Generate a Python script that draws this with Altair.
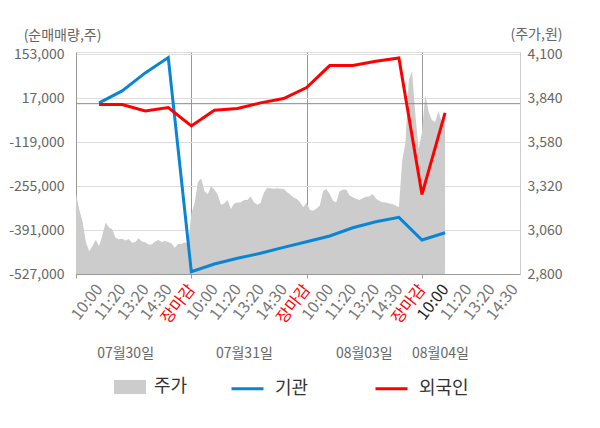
import json
import altair as alt
import pandas as pd

FONT = "Noto Sans CJK KR"

# ---- data ----
dates = ["07월30일", "07월31일", "08월03일", "08월04일"]
date_pos = [1.15, 6.3, 11.5, 14.8]
slot_labels = ["10:00", "11:20", "13:20", "14:30", "장마감"]

# 순매매량 (주) at each label slot, day1 10:00 -> day4 10:00
institution = [2500, 39600, 95200, 142800, -519900,
               -496000, -478500, -463000, -444500, -427000,
               -409500, -383900, -365300, -351800, -421900,
               -399300]
foreign = [-2500, -2500, -22200, -11700, -68600,
           -20100, -14800, 2500, 16100, 50100,
           118100, 118100, 131400, 141600, -280700,
           -28400]

# 주가 (원), evenly spaced through each trading day
price_d1 = [3273, 3180, 3110, 2990, 2935, 2965, 3003, 2965, 3030, 3105,
            3075, 3065, 3015, 3005, 3009, 2999, 3007, 2985, 2990, 3012,
            2992, 2988, 2975, 2975, 2992, 3001, 2990, 2995, 2989, 2980,
            2956, 2978, 2978, 2988, 2978]
price_d2 = [3155, 3220, 3345, 3365, 3290, 3273, 3320, 3298, 3270, 3210,
            3218, 3238, 3185, 3218, 3223, 3225, 3238, 3238, 3258, 3225,
            3210, 3220, 3280, 3311, 3308, 3304, 3308, 3305, 3305, 3285,
            3270, 3253, 3244, 3225, 3195]
price_d3 = [3223, 3179, 3175, 3188, 3205, 3292, 3302, 3273, 3233, 3225,
            3290, 3298, 3300, 3265, 3255, 3245, 3238, 3248, 3257, 3258,
            3273, 3247, 3234, 3225, 3223, 3218, 3214, 3206, 3195, 3470,
            3580, 3950, 4000, 3740, 3540]
price_d4 = [3640, 3860, 3760, 3712, 3700, 3765, 3700, 3720]

vol_ticks = [-527000, -391000, -255000, -119000, 17000, 153000]
price_ticks = [2800, 3060, 3320, 3580, 3840, 4100]

# ---- build tables ----
SLOTS = len(slot_labels)          # slots per day
N_PER_DAY = len(price_d1)
price_rows = []
for d, arr in enumerate([price_d1, price_d2, price_d3, price_d4]):
    for i, p in enumerate(arr):
        price_rows.append({"k": d * SLOTS - 1 + i * SLOTS / N_PER_DAY,
                           "price": p, "series": "주가"})
price_df = pd.DataFrame(price_rows)

line_rows = []
for i, v in enumerate(institution):
    line_rows.append({"k": i, "v": v, "series": "기관"})
for i, v in enumerate(foreign):
    line_rows.append({"k": i, "v": v, "series": "외국인"})
line_df = pd.DataFrame(line_rows)

all_labels = [""] + [slot_labels[j % SLOTS] for j in range(19)]
label_js = json.dumps(all_labels, ensure_ascii=False)
close_idx = [j for j in range(19) if slot_labels[j % SLOTS] == "장마감"]
now_idx = 15
bounds = [-1] + close_idx

date_df = pd.DataFrame({"pos": date_pos, "date": dates})
zero_df = pd.DataFrame({"v": [0]})

XDOM = [-1, 18.25]
in_close = "indexof(%s, datum.value) >= 0" % json.dumps(close_idx)
in_bounds = "indexof(%s, datum.value) >= 0" % json.dumps(bounds)
num_expr = "(datum.value < 0 ? '-' : '') + format(abs(datum.value), ',.0f')"

x_axis = alt.Axis(
    values=list(range(-1, 19)), title=None,
    labelExpr=f"{label_js}[datum.value + 1]",
    labelAngle=-52, labelAlign="right", labelBaseline="middle",
    labelPadding=8, labelFont=FONT, labelFontSize=16,
    labelColor={"condition": [{"test": in_close, "value": "#ff0000"},
                              {"test": f"datum.value == {now_idx}", "value": "#222222"}],
                "value": "#777777"},
    labelOverlap=False, labelFlush=False, labelBound=False,
    grid=True,
    gridColor={"condition": {"test": in_close, "value": "#999999"}, "value": "transparent"},
    gridWidth=1,
    ticks=True, tickSize=4,
    tickColor={"condition": {"test": in_bounds, "value": "#999999"}, "value": "transparent"},
    domainColor="#999999",
)
xs = alt.Scale(domain=XDOM, nice=False, zero=False)

area = alt.Chart(price_df).mark_area(interpolate="linear", opacity=1).encode(
    x=alt.X("k:Q", scale=xs, axis=x_axis),
    y=alt.Y("price:Q",
            scale=alt.Scale(domain=[2800, 4114], nice=False, zero=False),
            axis=alt.Axis(orient="right", values=price_ticks, labelExpr=num_expr,
                          grid=False, ticks=False, labelPadding=7,
                          labelFont=FONT, labelFontSize=14, labelColor="#666666",
                          domainColor="#cccccc",
                          title="(주가,원)", titleAngle=0, titleX=16, titleY=-18,
                          titleAlign="center", titleBaseline="middle",
                          titleFont=FONT, titleFontSize=14, titleFontWeight="normal",
                          titleColor="#666666")),
    y2=alt.datum(2800),
    fill=alt.Fill("series:N",
                  scale=alt.Scale(domain=["주가"], range=["#cccccc"]),
                  legend=alt.Legend(orient="none", legendX=38, legendY=319,
                                    title=None, direction="horizontal",
                                    symbolType="M-1,-0.44H1V0.44H-1Z", symbolSize=1024,
                                    symbolStrokeWidth=0, labelOffset=8,
                                    labelFont=FONT, labelFontSize=18, labelColor="#333333",
                                    padding=0)),
)

vs = alt.Scale(domain=[-527000, 160000], nice=False, zero=False)

lines = alt.Chart(line_df).mark_line(strokeWidth=3).encode(
    x=alt.X("k:Q", scale=xs, axis=x_axis),
    y=alt.Y("v:Q", scale=vs,
            axis=alt.Axis(orient="left", values=vol_ticks, labelExpr=num_expr,
                          grid=True, gridColor="#dddddd", gridWidth=1,
                          ticks=False, labelPadding=12,
                          labelFont=FONT, labelFontSize=14, labelColor="#666666",
                          domainColor="#999999",
                          title="(순매매량,주)", titleAngle=0, titleX=-14, titleY=-17,
                          titleAlign="center", titleBaseline="middle",
                          titleFont=FONT, titleFontSize=14, titleFontWeight="normal",
                          titleColor="#666666")),
    stroke=alt.Stroke("series:N",
                      scale=alt.Scale(domain=["기관", "외국인"], range=["#0a85d6", "#ff0000"]),
                      legend=alt.Legend(orient="none", legendX=154, legendY=319,
                                        title=None, direction="horizontal", columns=2,
                                        columnPadding=60,
                                        symbolType="stroke", symbolSize=1024,
                                        symbolStrokeWidth=3, labelOffset=10,
                                        labelFont=FONT, labelFontSize=18, labelColor="#333333",
                                        padding=0)),
)

zero_rule = alt.Chart(zero_df).mark_rule(color="#888888", strokeWidth=1).encode(
    y=alt.Y("v:Q", scale=vs, axis=None),
)

date_text = alt.Chart(date_df).mark_text(
    font=FONT, fontSize=14, color="#666666", align="center", baseline="middle"
).encode(
    x=alt.X("pos:Q", scale=xs, axis=x_axis),
    y=alt.value(301.5),
    text="date:N",
)

chart = alt.layer(area, zero_rule, lines, date_text).resolve_scale(
    y="independent"
).properties(
    width=444, height=222,
    autosize=alt.AutoSizeParams(type="none"),
    padding={"left": 68, "top": 44, "right": 64, "bottom": 146},
).configure_view(fill="#f4f4f4", stroke=None).configure(background="white")

chart.save("out.html", embed_options={"renderer": "svg", "actions": False})
